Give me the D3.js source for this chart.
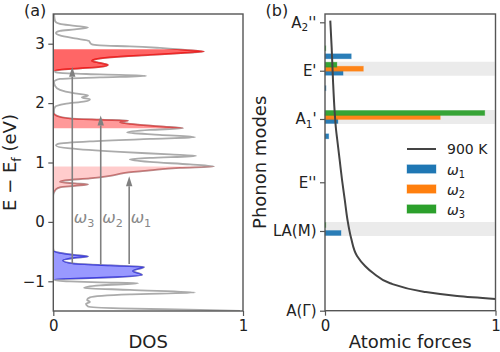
<!DOCTYPE html>
<html><head><meta charset="utf-8">
<script src="https://cdn.jsdelivr.net/npm/d3@7"></script>
<style>body{margin:0;background:#fff}svg{display:block;font-family:"DejaVu Sans",sans-serif}</style>
</head><body><svg id="c" width="500" height="352"></svg>
<script>
// ---------- Panel (a): density of states ----------
const dosEnergy = [3.50,3.384,3.333,3.300,3.271,3.241,3.215,3.182,3.140,3.089,
3.047,3.022,2.988,2.971,2.955,2.929,2.896,2.867,2.845,2.811,
2.769,2.736,2.710,2.677,2.643,2.609,2.584,2.559,2.542,2.525,
2.508,2.483,2.458,2.433,2.407,2.357,2.290,2.222,2.163,2.130,
2.096,2.062,2.029,1.987,1.936,1.886,1.830,1.785,1.742,1.721,
1.705,1.678,1.650,1.608,1.577,1.549,1.507,1.465,1.426,1.397,
1.355,1.313,1.288,1.237,1.178,1.136,1.111,1.077,1.052,1.010,
0.968,0.931,0.909,0.867,0.825,0.774,0.732,0.699,0.673,0.648,
0.631,0.606,0.581,0.547,0.493,0.438,-0.438,-0.488,-0.522,-0.556,
-0.581,-0.606,-0.648,-0.699,-0.732,-0.758,-0.825,-0.892,-0.934,-0.960,
-0.968,-0.985,-1.002,-1.019,-1.032,-1.069,-1.111,-1.145,-1.190,-1.221,
-1.271,-1.313,-1.347,-1.380,-1.423,-1.456,-1.481,-1.498];
const dosValue = [0.004,0.009,0.035,0.114,0.183,0.114,0.035,0.014,0.035,0.114,
0.188,0.193,0.204,0.246,0.404,0.562,0.694,0.794,0.694,0.510,
0.299,0.220,0.204,0.246,0.288,0.246,0.141,0.035,0.009,0.009,
0.035,0.246,0.489,0.246,0.035,0.004,0.009,0.035,0.114,0.183,
0.151,0.193,0.167,0.062,0.009,0.004,0.004,0.020,0.088,0.246,
0.394,0.352,0.404,0.562,0.684,0.510,0.389,0.562,0.747,0.510,
0.193,0.025,0.014,0.088,0.352,0.615,0.752,0.510,0.404,0.510,
0.721,0.847,0.668,0.510,0.378,0.299,0.193,0.062,0.035,0.114,
0.183,0.114,0.035,0.014,0.004,0,0,0.004,0.035,0.114,
0.183,0.114,0.051,0.104,0.299,0.478,0.420,0.468,0.299,0.088,
0.009,0.009,0.088,0.246,0.447,0.246,0.162,0.404,0.747,0.404,
0.193,0.178,0.193,0.172,0.183,0.352,0.773,0.984];
const fillLow  = [2.545, 1.577, 0.493, -0.968];
const fillHigh = [2.905, 1.830, 0.931, -0.488];
const arrowLabels = ["ω_1", "ω_2", "ω_3"];
const arrowDos    = [0.40, 0.25, 0.10];
const arrowStart  = [-0.71, -0.72, -0.70];
const arrowEnd    = [0.77, 1.79, 2.61];
const dosTicksX = [0, 1];
const dosTicksY = [-1, 0, 1, 2, 3];

// ---------- Panel (b): phonon modes ----------
const modeTicks  = [0, 16.12, 25.97, 38.77, 48.53, 58.32];
const modeLabels = ["A(Γ)", "LA(M)", "E''", "A_1'", "E'", "A_2''"];
const bandModes  = [16.12, 38.77, 48.53];
const barFreq = [16.12, 25.97, 35.67, 38.77, 45.40, 48.53, 51.85];
const omega1  = [0.094, 0, 0.022, 0.076, 0.006, 0.106, 0.154];
const omega2  = [0, 0, 0, 0.676, 0, 0.225, 0];
const omega3  = [0.005, 0, 0, 0.937, 0, 0.070, 0.005];
const seriesNames = ["ω_1", "ω_2", "ω_3"];
const curveForce = [0.031,0.039,0.047,0.056,0.065,0.072,0.086,0.100,0.116,0.132,0.153,0.188,0.235,0.284,0.382,0.578,0.775,1.0];
const curveFreq  = [58.65,53.27,46.51,40.59,36.54,34.52,30.48,26.43,22.39,18.34,14.70,11.06,9.04,7.56,5.54,3.84,2.97,2.37];
const curveLabel = "900 K";
const forceTicks = [0, 1];

// ---------- drawing ----------
const svg = d3.select("#c");
const ink = "#222", spine = "#555";
const tickFont = 15, labelFont = 18;

function richText(sel, str, size, italicFirst) {
  sel.text(null);
  const parts = str.split(/_(.)/);
  let shifted = false;
  parts.forEach((p, i) => {
    if (!p) return;
    const t = sel.append("tspan").text(p);
    if (i % 2) { t.attr("font-size", size * 0.7).attr("dy", size * 0.25); shifted = true; }
    else {
      if (shifted) { t.attr("dy", -size * 0.25); shifted = false; }
      if (italicFirst && i === 0) t.attr("font-style", "italic");
    }
  });
}

// Panel A scales
const xA = d3.scaleLinear([0, 1], [53.3, 243]);
const yA = d3.scaleLinear([-1.5, 3.5], [311, 14]);
const dos = dosEnergy.map((e, i) => ({e, v: dosValue[i]}));

const defs = svg.append("defs");
defs.append("clipPath").attr("id", "clipA").append("rect")
  .attr("x", xA(0)).attr("y", yA(3.5)).attr("width", xA(1) - xA(0)).attr("height", yA(-1.5) - yA(3.5));

const gA = svg.append("g").attr("clip-path", "url(#clipA)");
const lineA = d3.line().x(d => xA(d.v)).y(d => yA(d.e)).curve(d3.curveMonotoneY);
const areaA = d3.area().y(d => yA(d.e)).x0(xA(0)).x1(d => xA(d.v)).curve(d3.curveMonotoneY);

gA.append("path").attr("d", lineA(dos)).attr("fill", "none").attr("stroke", "#ababab").attr("stroke-width", 1.8);

const fillCols = ["#ff0000", "#ff0000", "#ff0000", "#0000ff"];
const fillOps = [0.6, 0.4, 0.2, 0.4];
fillLow.forEach((lo, i) => {
  const id = "fclip" + i;
  defs.append("clipPath").attr("id", id).append("rect")
    .attr("x", 0).attr("width", 500).attr("y", yA(fillHigh[i])).attr("height", yA(lo) - yA(fillHigh[i]));
  const g = gA.append("g").attr("clip-path", `url(#${id})`);
  g.append("path").attr("d", areaA(dos)).attr("fill", fillCols[i]).attr("fill-opacity", fillOps[i]).attr("stroke", "none");
  g.append("path").attr("d", lineA(dos)).attr("fill", "none").attr("stroke", fillCols[i]).attr("stroke-opacity", fillOps[i]).attr("stroke-width", 1.6);
});

// arrows
const arrowCol = "#808080";
arrowDos.forEach((d, i) => {
  const x = xA(d), y0 = yA(arrowStart[i]), y1 = yA(arrowEnd[i]);
  const head = 10, hw = 3.2;
  svg.append("line").attr("x1", x).attr("x2", x).attr("y1", y0).attr("y2", y1 + head)
    .attr("stroke", arrowCol).attr("stroke-width", 1.6);
  svg.append("path").attr("d", `M${x},${y1} L${x - hw},${y1 + head} L${x + hw},${y1 + head} Z`).attr("fill", arrowCol);
  const t = svg.append("text").attr("x", x + 1.5).attr("y", 223).attr("font-size", 16).attr("fill", "#888");
  richText(t, arrowLabels[i], 16, true);
});

// spines A
svg.append("rect").attr("x", xA(0)).attr("y", yA(3.5)).attr("width", xA(1) - xA(0)).attr("height", yA(-1.5) - yA(3.5))
  .attr("fill", "none").attr("stroke", spine).attr("stroke-width", 1.4);

function styleAxis(g) {
  g.select(".domain").remove();
  g.selectAll(".tick line").attr("stroke", spine).attr("stroke-width", 1.2);
  g.selectAll(".tick text").attr("fill", ink).attr("font-size", tickFont).attr("font-family", "DejaVu Sans");
}
const fmtMinus = d => d < 0 ? "\u2212" + Math.abs(d) : String(d);
svg.append("g").attr("transform", `translate(0,${yA(-1.5)})`)
  .call(d3.axisBottom(xA).tickValues(dosTicksX).tickFormat(fmtMinus).tickSize(5).tickPadding(4.5)).call(styleAxis);
svg.append("g").attr("transform", `translate(${xA(0)},0)`)
  .call(d3.axisLeft(yA).tickValues(dosTicksY).tickFormat(fmtMinus).tickSize(5).tickPadding(3.5)).call(styleAxis);

svg.append("text").attr("x", (xA(0) + xA(1)) / 2).attr("y", 348).attr("text-anchor", "middle")
  .attr("font-size", labelFont).attr("fill", ink).text("DOS");
const yl = svg.append("text").attr("transform", `translate(16,${(yA(3.5) + yA(-1.5)) / 2}) rotate(-90)`)
  .attr("text-anchor", "middle").attr("font-size", labelFont).attr("fill", ink);
richText(yl, "E \u2212 E_f (eV)", labelFont, false);
svg.append("text").attr("x", 24).attr("y", 16).attr("font-size", 16).attr("fill", ink).text("(a)");

// Panel B
const xB = d3.scaleLinear([0, 1], [325, 495.5]);
const yB = d3.scaleLinear([0, 60], [310.7, 14]);

bandModes.forEach(f => {
  svg.append("rect").attr("x", xB(0)).attr("width", xB(0.995) - xB(0))
    .attr("y", yB(f) - 9).attr("height", 14).attr("fill", "#ebebeb");
});
const series = [omega1, omega2, omega3];
const serCols = ["#1f77b4", "#ff7f0e", "#2ca02c"];
const serOff = [2, -2, -6];
series.forEach((vals, s) => {
  svg.append("g").selectAll("rect").data(barFreq).join("rect")
    .attr("x", xB(0)).attr("y", (f) => yB(f) + serOff[s] - 2.5)
    .attr("width", (f, i) => Math.max(0, xB(vals[i]) - xB(0))).attr("height", 5)
    .attr("fill", serCols[s]).attr("fill-opacity", 0.95)
    .attr("stroke", serCols[s]).attr("stroke-opacity", 0.35).attr("stroke-width", 0.8);
});
const curvePts = curveForce.map((x, i) => [xB(x), yB(curveFreq[i])]);
svg.append("path").attr("d", d3.line().curve(d3.curveMonotoneY)(curvePts))
  .attr("fill", "none").attr("stroke", "#444").attr("stroke-width", 2);

svg.append("rect").attr("x", xB(0)).attr("y", yB(60)).attr("width", xB(1) - xB(0)).attr("height", yB(0) - yB(60))
  .attr("fill", "none").attr("stroke", spine).attr("stroke-width", 1.4);

svg.append("g").attr("transform", `translate(0,${yB(0)})`)
  .call(d3.axisBottom(xB).tickValues(forceTicks).tickFormat(fmtMinus).tickSize(5).tickPadding(4.5)).call(styleAxis);
const axL = svg.append("g").attr("transform", `translate(${xB(0)},0)`)
  .call(d3.axisLeft(yB).tickValues(modeTicks).tickFormat((d, i) => modeLabels[i]).tickSize(5).tickPadding(3.5)).call(styleAxis);
axL.selectAll(".tick text").each(function (d, i) { richText(d3.select(this), modeLabels[i], tickFont, false); });

svg.append("text").attr("x", (xB(0) + xB(1)) / 2).attr("y", 348).attr("text-anchor", "middle")
  .attr("font-size", labelFont).attr("fill", ink).text("Atomic forces");
svg.append("text").attr("transform", `translate(265.5,${(yB(0) + yB(60)) / 2}) rotate(-90)`)
  .attr("text-anchor", "middle").attr("font-size", labelFont).attr("fill", ink).text("Phonon modes");
svg.append("text").attr("x", 265.5).attr("y", 16).attr("font-size", 16).attr("fill", ink).text("(b)");

// legend
const lg = svg.append("g");
lg.append("line").attr("x1", 407).attr("x2", 436).attr("y1", 149).attr("y2", 149).attr("stroke", "#444").attr("stroke-width", 2);
lg.append("text").attr("x", 447).attr("y", 154).attr("font-size", 14).attr("fill", ink).text(curveLabel);
seriesNames.forEach((n, i) => {
  const cy = 169 + i * 20;
  lg.append("rect").attr("x", 407).attr("y", cy - 4.2).attr("width", 29).attr("height", 8.4)
    .attr("fill", serCols[i]).attr("stroke", serCols[i]).attr("stroke-opacity", 0.35);
  const t = lg.append("text").attr("x", 447).attr("y", cy + 5.5).attr("font-size", 14).attr("fill", ink);
  richText(t, n, 14, true);
});
</script></body></html>
